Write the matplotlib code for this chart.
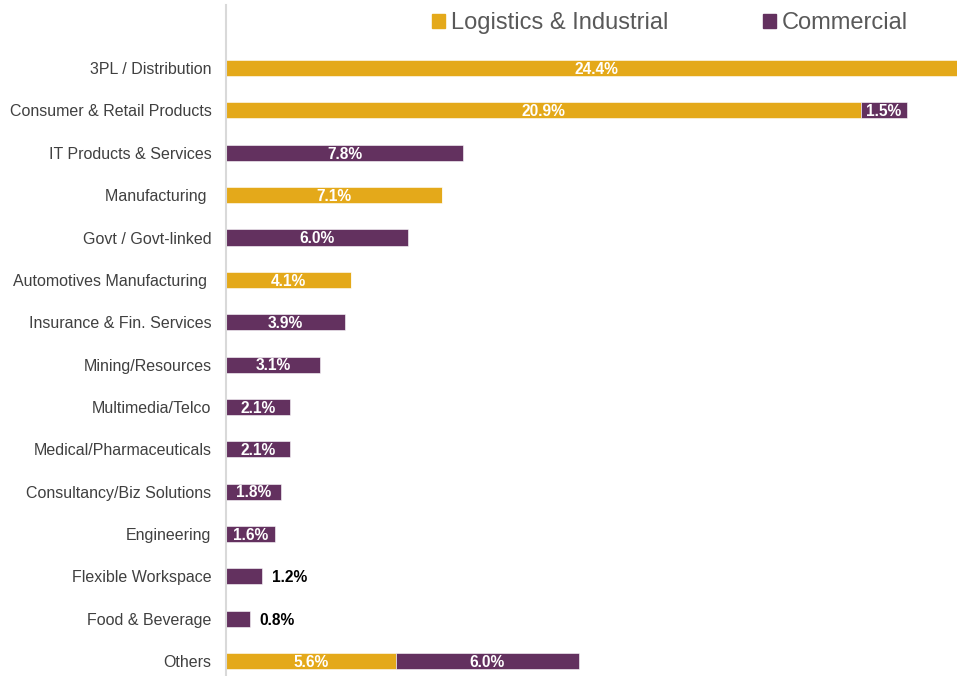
import matplotlib.pyplot as plt
from matplotlib.patches import Patch

plt.rcParams['font.family'] = ['Liberation Sans', 'DejaVu Sans']

categories = ["3PL / Distribution", "Consumer & Retail Products", "IT Products & Services",
              "Manufacturing ", "Govt / Govt-linked", "Automotives Manufacturing ",
              "Insurance & Fin. Services", "Mining/Resources", "Multimedia/Telco",
              "Medical/Pharmaceuticals", "Consultancy/Biz Solutions", "Engineering",
              "Flexible Workspace", "Food & Beverage", "Others"]
logistics = [24.4, 20.9, 0, 7.1, 0, 4.1, 0, 0, 0, 0, 0, 0, 0, 0, 5.6]
commercial = [0, 1.5, 7.8, 0, 6.0, 0, 3.9, 3.1, 2.1, 2.1, 1.8, 1.6, 1.2, 0.8, 6.0]

gold = "#E4A91A"
purple = "#63315F"

fig = plt.figure(figsize=(9.57, 6.76), dpi=100)
ax = fig.add_axes([226 / 957, 0, 1 - 226 / 957, 1 - 4.5 / 676])

y = list(range(len(categories)))
h = 0.38
ax.barh(y, logistics, height=h, color=gold, edgecolor="white", linewidth=0.4)
ax.barh(y, commercial, height=h, left=logistics, color=purple, edgecolor="white", linewidth=0.4)

# value labels
for i in y:
    l, c = logistics[i], commercial[i]
    if l > 0:
        ax.text(l / 2, i + 0.03, f"{l:.1f}%", ha="center", va="center", color="white",
                fontsize=11.2, fontweight="bold")
    if c > 0:
        if c >= 1.5:
            ax.text(l + c / 2, i + 0.03, f"{c:.1f}%", ha="center", va="center", color="white",
                    fontsize=11.2, fontweight="bold")
        else:
            ax.text(l + c + 0.31, i + 0.03, f"{c:.1f}%", ha="left", va="center", color="black",
                    fontsize=11.2, fontweight="bold")

ax.set_xlim(0, 24.05)
ax.set_ylim(14.35, -1.5)
ax.set_yticks(y)
ax.set_yticklabels(categories, fontsize=11.5, color="#404040")
ax.tick_params(axis="y", length=0, pad=10.5)
ax.set_xticks([])
for s in ["top", "right", "bottom"]:
    ax.spines[s].set_visible(False)
ax.spines["left"].set_color("#D9D9D9")
ax.spines["left"].set_linewidth(1.5)

handles = [Patch(color=gold, label="Logistics & Industrial"),
           Patch(color=purple, label="Commercial")]
fig.legend(handles=handles, loc="center left", bbox_to_anchor=(432 / 957, 1 - 23 / 676), ncol=2,
           frameon=False, fontsize=17, handlelength=0.55, handleheight=0.55,
           handletextpad=0.25, columnspacing=4.0, labelcolor="#595959",
           borderpad=0, borderaxespad=0)

fig.savefig("out.png", dpi=100)
